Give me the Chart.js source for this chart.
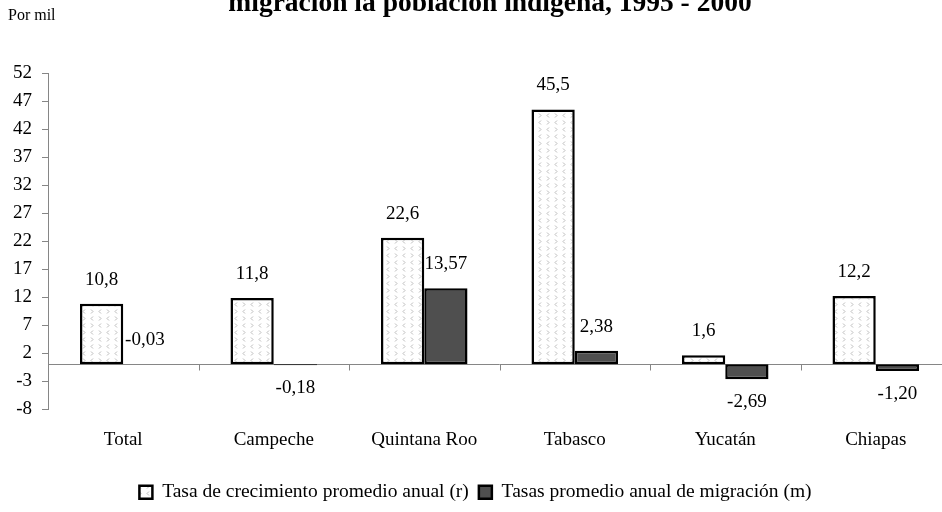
<!DOCTYPE html>
<html lang="es">
<head>
<meta charset="utf-8">
<title>Tasa de crecimiento y migración de la población indígena, 1995 - 2000</title>
<script src="https://cdn.jsdelivr.net/npm/chart.js@4.4.1/dist/chart.umd.min.js"></script>
<style>
  html, body { margin: 0; padding: 0; background: #fff; overflow: hidden; }
  #wrap { position: relative; width: 952px; height: 512px; }
</style>
</head>
<body>
<div id="wrap"><canvas id="chart"></canvas></div>
<script>
// Chart values
const categories = ["Total", "Campeche", "Quintana Roo", "Tabasco", "Yucatán", "Chiapas"];
const growthRate = [10.8, 11.8, 22.6, 45.5, 1.6, 12.2];
const migrationRate = [-0.03, -0.18, 13.57, 2.38, -2.69, -1.2];
const yTicks = [-8, -3, 2, 7, 12, 17, 22, 27, 32, 37, 42, 47, 52];
const seriesNames = ["Tasa de crecimiento promedio anual (r)", "Tasas promedio anual de migración (m)"];
const titleText = "migración la población indígena, 1995 - 2000";
const unitText = "Por mil";

const serif = "'Liberation Serif', 'Times New Roman', serif";
const axisGrey = "#868686";
const plotBottom = 409;

Chart.defaults.font.family = serif;
Chart.defaults.color = "#000";

// Light dotted fill with little chevrons, like the Excel pattern
function chevronPattern() {
  const c = document.createElement("canvas");
  c.width = 16;
  c.height = 14;
  const g = c.getContext("2d");
  g.fillStyle = "#fff";
  g.fillRect(0, 0, 16, 14);
  g.strokeStyle = "#bcbcbc";
  g.lineWidth = 1;
  const mark = (x, y, dir) => {
    g.beginPath();
    g.moveTo(x + (dir < 0 ? 2 : 0), y - 2);
    g.lineTo(x + (dir < 0 ? 0 : 2), y);
    g.lineTo(x + (dir < 0 ? 2 : 0), y + 2);
    g.stroke();
  };
  mark(3, 3.5, -1);
  mark(11, 3.5, 1);
  mark(3, 10.5, 1);
  mark(11, 10.5, -1);
  return g.createPattern(c, "repeat");
}

const fmt = (v, digits) => v.toFixed(digits).replace(".", ",");

// Title (cut at the top edge) and unit note
const headerPlugin = {
  id: "header",
  afterDraw(chart) {
    const ctx = chart.ctx;
    ctx.save();
    ctx.fillStyle = "#000";
    ctx.textBaseline = "alphabetic";
    ctx.textAlign = "center";
    ctx.font = "bold 27.5px " + serif;
    ctx.fillText(titleText, 490, 11);
    ctx.textAlign = "left";
    ctx.font = "16px " + serif;
    ctx.fillText(unitText, 8, 20);
    ctx.restore();
  }
};

// Zero line with category tick marks
const zeroLinePlugin = {
  id: "zeroLine",
  beforeDatasetsDraw(chart) {
    const { ctx, chartArea, scales } = chart;
    const y0 = Math.round(scales.y.getPixelForValue(0)) + 0.5;
    ctx.save();
    ctx.strokeStyle = axisGrey;
    ctx.lineWidth = 1;
    ctx.beginPath();
    ctx.moveTo(chartArea.left, y0);
    ctx.lineTo(chartArea.right, y0);
    for (let i = 0; i < categories.length; i++) {
      const x = Math.round(i === 0 ? chartArea.left
        : (scales.x.getPixelForValue(i - 1) + scales.x.getPixelForValue(i)) / 2) + 0.5;
      ctx.moveTo(x, y0);
      ctx.lineTo(x, y0 + 6);
    }
    ctx.stroke();
    ctx.restore();
  }
};

// Value labels outside the bar ends
const valueLabelPlugin = {
  id: "valueLabels",
  afterDatasetsDraw(chart) {
    const ctx = chart.ctx;
    ctx.save();
    ctx.fillStyle = "#000";
    ctx.font = "19px " + serif;
    ctx.textAlign = "center";
    ctx.textBaseline = "middle";
    chart.data.datasets.forEach((ds, di) => {
      chart.getDatasetMeta(di).data.forEach((bar, i) => {
        const text = fmt(ds.data[i], di === 0 ? 1 : 2);
        const below = bar.y - bar.base > 0.5;
        ctx.fillText(text, bar.x, below ? bar.y + 23 : bar.y - 24);
      });
    });
    ctx.restore();
  }
};

new Chart(document.getElementById("chart"), {
  type: "bar",
  data: {
    labels: categories,
    datasets: [
      {
        label: seriesNames[0],
        data: growthRate,
        backgroundColor: chevronPattern(),
        borderColor: "#000",
        borderWidth: 2.5,
        borderSkipped: false,
        barPercentage: 1,
        categoryPercentage: 0.575
      },
      {
        label: seriesNames[1],
        data: migrationRate,
        backgroundColor: "#4f4f4f",
        borderColor: "#000",
        borderWidth: 2.5,
        borderSkipped: false,
        barPercentage: 1,
        categoryPercentage: 0.575
      }
    ]
  },
  options: {
    responsive: true,
    maintainAspectRatio: false,
    animation: false,
    layout: { padding: { top: 73, right: 1, bottom: 0, left: 0 } },
    plugins: {
      title: { display: false },
      tooltip: { enabled: false },
      legend: {
        position: "bottom",
        labels: {
          color: "#000",
          font: { size: 19.5 },
          boxWidth: 13,
          boxHeight: 13,
          padding: 10
        }
      }
    },
    scales: {
      x: {
        grid: { display: false, drawTicks: false },
        border: { display: false },
        ticks: { color: "#000", font: { size: 19 }, padding: 20, maxRotation: 0, autoSkip: false },
        afterFit: (s) => {
          const legendH = s.chart.legend ? s.chart.legend.height : 0;
          s.height = s.chart.height - legendH - plotBottom;
        }
      },
      y: {
        min: -8,
        max: 52,
        afterBuildTicks: (s) => {
          s.ticks = yTicks.map((v) => ({ value: v }));
        },
        afterFit: (s) => {
          s.width = 48;
        },
        grid: { drawOnChartArea: false, drawTicks: true, tickLength: 6, color: axisGrey },
        border: { display: true, color: axisGrey, width: 1 },
        ticks: { color: "#000", font: { size: 19 }, padding: 10 }
      }
    }
  },
  plugins: [headerPlugin, zeroLinePlugin, valueLabelPlugin]
});
</script>
</body>
</html>
